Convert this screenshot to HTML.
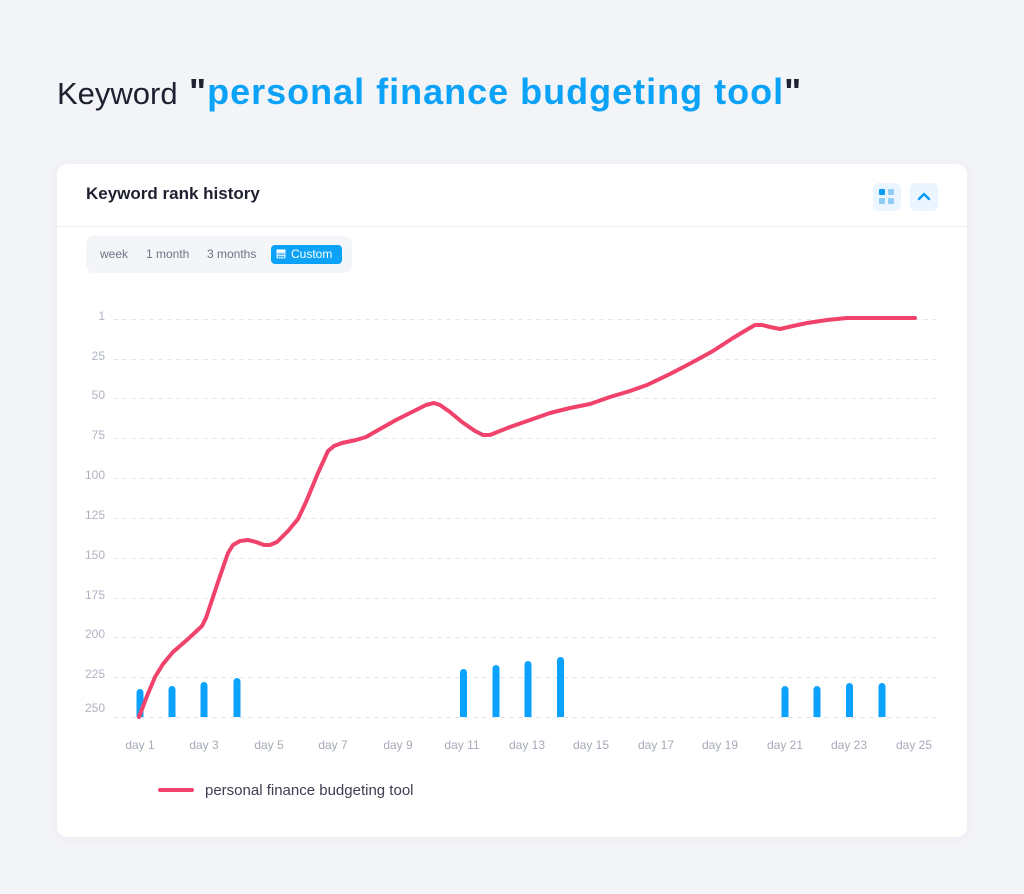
<!DOCTYPE html>
<html><head><meta charset="utf-8">
<style>
html,body{margin:0;padding:0;}
body{width:1024px;height:894px;background:#f3f4f8;position:relative;overflow:hidden;font-family:"Liberation Sans",sans-serif;}
.t{position:absolute;white-space:nowrap;}
.card{position:absolute;left:57px;top:164px;width:910px;height:673px;background:#fff;border-radius:10px;box-shadow:0 2px 10px rgba(30,40,80,0.04);}
</style></head><body>
<div class="t" style="left:57px;top:74px;font-size:31px;color:#1f2030;line-height:40px;">Keyword</div>
<div class="t" style="left:189px;top:70px;font-size:36px;font-weight:bold;color:#1f2030;line-height:44px;letter-spacing:1px;">"<span style="color:#0ba2f7;">personal finance budgeting tool</span>"</div>

<div class="card"></div>
<div class="t" style="left:86px;top:184px;font-size:17px;font-weight:bold;color:#1f2030;line-height:20px;">Keyword rank history</div>
<div style="position:absolute;left:57px;top:226px;width:910px;height:1px;background:#eceef3;"></div>

<!-- icons -->
<div style="position:absolute;left:873px;top:183px;width:28px;height:28px;border-radius:6px;background:#eaf5ff;"></div>
<div style="position:absolute;left:879px;top:189px;width:6px;height:6px;border-radius:1px;background:#0a9cf5;"></div>
<div style="position:absolute;left:888px;top:189px;width:6px;height:6px;border-radius:1px;background:#8fcdf6;"></div>
<div style="position:absolute;left:879px;top:198px;width:6px;height:6px;border-radius:1px;background:#8fcdf6;"></div>
<div style="position:absolute;left:888px;top:198px;width:6px;height:6px;border-radius:1px;background:#8fcdf6;"></div>
<div style="position:absolute;left:910px;top:183px;width:28px;height:28px;border-radius:6px;background:#eaf5ff;"></div>
<svg style="position:absolute;left:910px;top:183px;" width="28" height="28"><polyline points="9,16 14,11 19,16" fill="none" stroke="#0a9cf5" stroke-width="2.4" stroke-linecap="round" stroke-linejoin="round"/></svg>

<!-- segmented control -->
<div style="position:absolute;left:86px;top:236px;width:266px;height:37px;border-radius:8px;background:#f3f5f9;"></div>
<div class="t" style="left:100px;top:247px;font-size:12px;color:#6f7384;line-height:15px;">week</div>
<div class="t" style="left:146px;top:247px;font-size:12px;color:#6f7384;line-height:15px;">1 month</div>
<div class="t" style="left:207px;top:247px;font-size:12px;color:#6f7384;line-height:15px;">3 months</div>
<div style="position:absolute;left:271px;top:245px;width:71px;height:19px;border-radius:4px;background:#0ba2f7;"></div>
<svg style="position:absolute;left:276px;top:249px;" width="10" height="10"><rect x="0.5" y="0.5" width="9" height="9" rx="1" fill="#cfeaff"/><rect x="0.5" y="0.5" width="9" height="2.5" fill="#fff"/><g fill="#0ba2f7"><rect x="2" y="4.5" width="1.5" height="1.5"/><rect x="4.3" y="4.5" width="1.5" height="1.5"/><rect x="6.6" y="4.5" width="1.5" height="1.5"/><rect x="2" y="7" width="1.5" height="1.5"/><rect x="4.3" y="7" width="1.5" height="1.5"/><rect x="6.6" y="7" width="1.5" height="1.5"/></g></svg>
<div class="t" style="left:291px;top:247px;font-size:12px;color:#fff;line-height:15px;">Custom</div>

<svg style="position:absolute;left:0;top:0;" width="1024" height="894">
<g stroke="#e5e7ed" stroke-width="1" stroke-dasharray="5,4">
<line x1="113" y1="319.5" x2="938" y2="319.5"/>
<line x1="113" y1="359.5" x2="938" y2="359.5"/>
<line x1="113" y1="398.5" x2="938" y2="398.5"/>
<line x1="113" y1="438.5" x2="938" y2="438.5"/>
<line x1="113" y1="478.5" x2="938" y2="478.5"/>
<line x1="113" y1="518.5" x2="938" y2="518.5"/>
<line x1="113" y1="558.5" x2="938" y2="558.5"/>
<line x1="113" y1="598.5" x2="938" y2="598.5"/>
<line x1="113" y1="637.5" x2="938" y2="637.5"/>
<line x1="113" y1="677.5" x2="938" y2="677.5"/>
<line x1="113" y1="717.5" x2="938" y2="717.5"/>
</g>
<g font-family="Liberation Sans, sans-serif" font-size="12" fill="#b0b3c2" text-anchor="end">
<text x="105" y="320">1</text>
<text x="105" y="360">25</text>
<text x="105" y="399">50</text>
<text x="105" y="439">75</text>
<text x="105" y="479">100</text>
<text x="105" y="519">125</text>
<text x="105" y="559">150</text>
<text x="105" y="599">175</text>
<text x="105" y="638">200</text>
<text x="105" y="678">225</text>
<text x="105" y="712">250</text>
</g>
<g font-family="Liberation Sans, sans-serif" font-size="12" fill="#a6aaba" text-anchor="middle">
<text x="140" y="749">day 1</text>
<text x="204" y="749">day 3</text>
<text x="269" y="749">day 5</text>
<text x="333" y="749">day 7</text>
<text x="398" y="749">day 9</text>
<text x="462" y="749">day 11</text>
<text x="527" y="749">day 13</text>
<text x="591" y="749">day 15</text>
<text x="656" y="749">day 17</text>
<text x="720" y="749">day 19</text>
<text x="785" y="749">day 21</text>
<text x="849" y="749">day 23</text>
<text x="914" y="749">day 25</text>
</g>
<g fill="#0aa2fc">
<rect x="136.5" y="689" width="7" height="28" rx="3.5"/><rect x="136.5" y="700" width="7" height="17"/>
<rect x="168.5" y="686" width="7" height="31" rx="3.5"/><rect x="168.5" y="700" width="7" height="17"/>
<rect x="200.5" y="682" width="7" height="35" rx="3.5"/><rect x="200.5" y="700" width="7" height="17"/>
<rect x="233.5" y="678" width="7" height="39" rx="3.5"/><rect x="233.5" y="700" width="7" height="17"/>
<rect x="460" y="669" width="7" height="48" rx="3.5"/><rect x="460" y="700" width="7" height="17"/>
<rect x="492.5" y="665" width="7" height="52" rx="3.5"/><rect x="492.5" y="700" width="7" height="17"/>
<rect x="524.5" y="661" width="7" height="56" rx="3.5"/><rect x="524.5" y="700" width="7" height="17"/>
<rect x="557" y="657" width="7" height="60" rx="3.5"/><rect x="557" y="700" width="7" height="17"/>
<rect x="781.5" y="686" width="7" height="31" rx="3.5"/><rect x="781.5" y="700" width="7" height="17"/>
<rect x="813.5" y="686" width="7" height="31" rx="3.5"/><rect x="813.5" y="700" width="7" height="17"/>
<rect x="846" y="683" width="7" height="34" rx="3.5"/><rect x="846" y="700" width="7" height="17"/>
<rect x="878.5" y="683" width="7" height="34" rx="3.5"/><rect x="878.5" y="700" width="7" height="17"/>
</g>
<polyline fill="none" stroke="#f0426a" stroke-width="4" stroke-linecap="round" stroke-linejoin="round" points="139,717 147,696 155,677 163,664 173,652 188,639 202,626 206,618 218,582 228,553 233,545 240,541 248,540 256,542 264,545 270,545 277,542 288,531 298,519 306,502 318,473 328,451 334,446 342,443 356,440 366,437 380,429 396,420 414,411 426,405 434,403 440,405 450,412 462,422 475,431 483,435 490,435 510,427 530,420 550,413 570,408 590,404 610,397 630,391 647,385 670,374 693,362 713,351 733,338 748,329 755,325 762,325 770,327 780,329 793,326 807,323 827,320 847,318 915,318"/>
<line x1="160" y1="790" x2="192" y2="790" stroke="#f0426a" stroke-width="4" stroke-linecap="round"/>
<text x="205" y="795" font-family="Liberation Sans, sans-serif" font-size="15" fill="#3b3e50">personal finance budgeting tool</text>
</svg>
</body></html>
